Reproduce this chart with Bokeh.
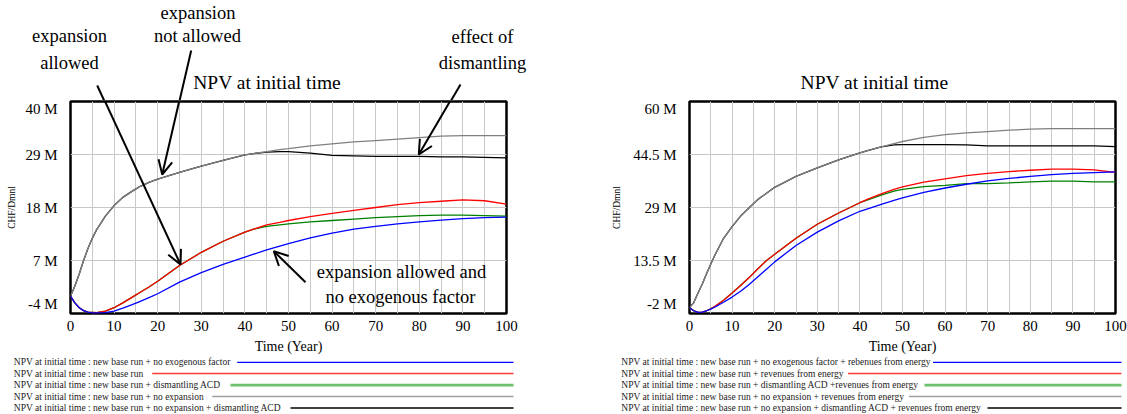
from bokeh.plotting import figure
from bokeh.models import Range1d, FixedTicker, Label, Arrow, OpenHead, Plot
from bokeh.layouts import row, column
from bokeh.core.properties import value
from bokeh.embed import file_html
from bokeh.resources import INLINE

FONT = "Liberation Serif"

# ---------------- data ----------------
time = [0, 1, 2, 3, 4, 5, 6, 8, 10, 12, 14, 16, 18, 20, 25, 30, 35, 40, 42, 45,
        48, 50, 55, 60, 65, 70, 75, 80, 85, 90, 95, 100]

# left chart (M CHF)
l_no_exogenous = [-0.4, -1.8, -2.8, -3.4, -3.7, -3.85, -3.9, -3.8, -3.5, -2.9, -2.2, -1.5, -0.7, 0.1,
                  2.5, 4.5, 6.2, 7.7, 8.3, 9.2, 10.0, 10.5, 11.7, 12.7, 13.5, 14.1, 14.6, 15.0,
                  15.4, 15.7, 15.9, 16.0]
l_base = [-0.4, -1.8, -2.8, -3.4, -3.7, -3.75, -3.8, -3.5, -2.8, -1.8, -0.7, 0.4, 1.5, 2.7,
          5.95, 8.7, 11.0, 12.9, 13.5, 14.4, 14.9, 15.3, 16.1, 16.8, 17.4, 18.0, 18.6, 19.0,
          19.3, 19.6, 19.4, 18.7]
l_dismantling = [-0.4, -1.8, -2.8, -3.4, -3.7, -3.75, -3.8, -3.5, -2.8, -1.8, -0.7, 0.4, 1.5, 2.7,
                 5.95, 8.7, 11.0, 12.9, 13.5, 14.1, 14.4, 14.6, 15.0, 15.3, 15.6, 15.9, 16.1, 16.3,
                 16.4, 16.4, 16.3, 16.2]
l_no_expansion = [-0.4, 1.7, 4.2, 7.0, 9.5, 11.6, 13.4, 16.2, 18.4, 20.1, 21.3, 22.4, 23.2, 23.9,
                  25.3, 26.6, 27.8, 28.9, 29.2, 29.6, 30.0, 30.2, 30.8, 31.2, 31.6, 31.9, 32.2, 32.5,
                  32.8, 32.9, 32.9, 32.9]
l_no_exp_dismantling = [-0.4, 1.7, 4.2, 7.0, 9.5, 11.6, 13.4, 16.2, 18.4, 20.1, 21.3, 22.4, 23.2, 23.9,
                        25.3, 26.6, 27.8, 28.9, 29.2, 29.5, 29.6, 29.6, 29.3, 28.8, 28.7, 28.6, 28.6, 28.6,
                        28.5, 28.5, 28.4, 28.3]

# right chart (M CHF), with revenues from energy
r_no_exogenous = [-0.3, -1.2, -1.7, -1.6, -1.2, -0.7, -0.1, 1.3, 2.8, 4.5, 6.5, 8.7, 10.9, 13.1,
                  17.9, 21.8, 25.1, 27.9, 28.7, 29.9, 31.1, 31.8, 33.4, 34.7, 35.8, 36.8, 37.5, 38.1,
                  38.6, 39.0, 39.2, 39.4]
r_base = [-0.3, -1.2, -1.7, -1.6, -1.2, -0.6, 0.1, 1.9, 4.0, 6.2, 8.5, 11.0, 13.4, 15.3,
          20.0, 24.1, 27.4, 30.4, 31.5, 33.0, 34.3, 35.0, 36.4, 37.4, 38.3, 39.0, 39.5, 39.9,
          40.2, 40.2, 40.0, 39.3]
r_dismantling = [-0.3, -1.2, -1.7, -1.6, -1.2, -0.6, 0.1, 1.9, 4.0, 6.2, 8.5, 11.0, 13.4, 15.3,
                 20.0, 24.1, 27.4, 30.4, 31.3, 32.6, 33.8, 34.3, 35.1, 35.5, 36.0, 36.0, 36.2, 36.5,
                 36.7, 36.7, 36.5, 36.5]
r_no_expansion = [-0.3, 1.2, 4.0, 6.6, 9.6, 12.5, 15.2, 20.0, 23.4, 26.5, 28.9, 31.3, 33.1, 34.9,
                  38.1, 40.6, 42.9, 45.0, 45.7, 46.7, 47.7, 48.3, 49.5, 50.3, 50.8, 51.2, 51.6, 51.9,
                  52.05, 52.05, 52.05, 52.05]
r_no_exp_dismantling = [-0.3, 1.2, 4.0, 6.6, 9.6, 12.5, 15.2, 20.0, 23.4, 26.5, 28.9, 31.3, 33.1, 34.9,
                        38.1, 40.6, 42.9, 45.0, 45.7, 46.7, 47.3, 47.4, 47.4, 47.4, 47.3, 47.0, 47.0, 47.0,
                        47.0, 47.0, 47.0, 46.8]

left_legend = [
    "NPV at initial time : new base run + no exogenous factor",
    "NPV at initial time : new base run",
    "NPV at initial time : new base run + dismantling ACD",
    "NPV at initial time : new base run + no expansion",
    "NPV at initial time : new base run + no expansion + dismantling ACD",
]
right_legend = [
    "NPV at initial time : new base run + no exogenous factor + rebenues from energy",
    "NPV at initial time : new base run + revenues from energy",
    "NPV at initial time : new base run + dismantling ACD +revenues from energy",
    "NPV at initial time : new base run + no expansion + revenues from energy",
    "NPV at initial time : new base run + no expansion + dismantling ACD + revenues from energy",
]

x_ticks = [0, 10, 20, 30, 40, 50, 60, 70, 80, 90, 100]
left_y_ticks = [-4, 7, 18, 29, 40]
right_y_ticks = [-2, 13.5, 29, 44.5, 60]

chart_title = "NPV at initial time"
x_title = "Time (Year)"
y_title = "CHF/Dmnl"

# ---------------- styles / layout ----------------
line_colors = ["#0000ff", "#ff0000", "#008000", "#808080", "#000000"]
legend_colors = ["#0000ff", "#ff3b3b", "#6cbf6c", "#a0a0a0", "#000000"]
legend_widths = [1.3, 1.5, 2.6, 1.3, 1.5]
draw_order = [4, 2, 3, 1, 0]   # black, green, gray, red, blue (blue on top)
legend_rows_y = [361.8, 373.0, 384.6, 396.0, 407.5]

TOP_H = 100          # annotation strip (window y 0..100)
MAIN_H = 256         # chart (window y 100..356)
LEG_H = 58           # legend strip (window y 356..414)
MAIN_BORDER_TOP = 1
FRAME_H = 213
FRAME_TOP_WIN = TOP_H + MAIN_BORDER_TOP
FRAME_BOTTOM_WIN = FRAME_TOP_WIN + FRAME_H

NO_ALIGN = {"frame_align": False} if "frame_align" in Plot.properties() else {}


def strip(win_x, win_y0, width, height):
    """A blank figure whose data coordinates are window pixels (y downwards)."""
    p = figure(width=width, height=height, output_backend="svg", toolbar_location=None,
               x_range=Range1d(win_x, win_x + width), y_range=Range1d(win_y0 + height, win_y0),
               min_border=0, min_border_left=0, min_border_right=0, min_border_top=0,
               min_border_bottom=0, x_axis_location=None, y_axis_location=None, **NO_ALIGN)
    p.grid.visible = False
    p.outline_line_color = None
    p.background_fill_color = "white"
    p.border_fill_color = "white"
    return p


def make_chart(win_x, width, border_left, frame_w, y_ticks, series, legend_labels,
               legend_line_starts, legend_text_x, legend_line_end, ylabel_standoff,
               title_pos, annotations, inner_annotations, arrows):
    y0, y1 = y_ticks[0], y_ticks[-1]

    # ---- top strip: title, annotation texts, upper part of arrows
    top = strip(win_x, 0, width, TOP_H)
    top.add_layout(Label(x=title_pos[0], y=title_pos[1], text=chart_title, text_font=FONT,
                         text_font_size="19.5px", text_align="center", text_baseline="middle",
                         text_color="black"))
    for (txt, px, py) in annotations:
        top.add_layout(Label(x=px, y=py, text=txt, text_font=FONT, text_font_size="18.5px",
                             text_align="center", text_baseline="middle", text_color="black"))
    for (ax0, ay0, ax1, ay1) in arrows:
        if ay0 < TOP_H:
            top.add_layout(Arrow(x_start=ax0, y_start=ay0, x_end=ax1, y_end=ay1,
                                 line_color="black", line_width=2,
                                 end=OpenHead(size=14, line_color="black", line_width=2)))

    # ---- main chart
    p = figure(width=width, height=MAIN_H, output_backend="svg", toolbar_location=None,
               x_range=Range1d(0, 100), y_range=Range1d(y0, y1),
               min_border_left=border_left, min_border_right=width - border_left - frame_w,
               min_border_top=MAIN_BORDER_TOP,
               min_border_bottom=MAIN_H - MAIN_BORDER_TOP - FRAME_H, **NO_ALIGN)
    p.background_fill_color = "white"
    p.border_fill_color = "white"
    p.outline_line_color = "black"
    p.outline_line_width = 2.5

    frame_left = win_x + border_left

    def sx(px):  # window px -> frame-relative screen x
        return px - frame_left

    def sy(py):  # window py -> frame-relative screen y (upwards)
        return FRAME_BOTTOM_WIN - py

    p.xaxis.ticker = FixedTicker(ticks=x_ticks)
    p.xgrid.ticker = FixedTicker(ticks=list(range(0, 101, 5)))
    p.yaxis.ticker = FixedTicker(ticks=y_ticks)
    overrides = {v: f"{v:g} M" for v in y_ticks}
    overrides[y0] = overrides[y0] + "\n"      # keep bottom label inside, as in Vensim
    p.yaxis.major_label_overrides = overrides
    for g in (p.xgrid, p.ygrid):
        g.grid_line_color = "#c8c8c8"
        g.grid_line_width = 1
    for ax in (p.xaxis, p.yaxis):
        ax.axis_line_color = None
        ax.major_tick_line_color = None
        ax.minor_tick_line_color = None
        ax.major_label_text_font = FONT
        ax.major_label_text_font_size = "15px"
        ax.major_label_text_color = "black"
        ax.axis_label_text_font = FONT
        ax.axis_label_text_font_style = "normal"
        ax.axis_label_text_color = "black"
    p.xaxis.major_label_standoff = 1
    p.yaxis.major_label_standoff = 7
    p.xaxis.axis_label = x_title
    p.xaxis.axis_label_text_font_size = "14px"
    p.xaxis.axis_label_standoff = 5
    p.yaxis.axis_label = y_title
    p.yaxis.axis_label_text_font_size = "9.5px"
    p.yaxis.axis_label_standoff = ylabel_standoff

    for i in draw_order:
        p.line(time, series[i], line_color=line_colors[i], line_width=1.3)

    for (ax0, ay0, ax1, ay1) in arrows:
        p.add_layout(Arrow(x_start=sx(ax0), y_start=sy(ay0), x_end=sx(ax1), y_end=sy(ay1),
                           start_units="screen", end_units="screen",
                           line_color="black", line_width=2,
                           end=OpenHead(size=14, line_color="black", line_width=2)))
    for (txt, px, py) in inner_annotations:
        p.add_layout(Label(x=sx(px), y=sy(py), x_units="screen", y_units="screen",
                           text=txt, text_font=FONT, text_font_size="18.5px",
                           text_align="center", text_baseline="middle", text_color="black"))

    # ---- legend strip (Vensim style: label followed by a line)
    leg = strip(win_x, TOP_H + MAIN_H, width, LEG_H)
    n = len(legend_labels)
    leg.text(x=[legend_text_x] * n, y=legend_rows_y[:n], text=legend_labels,
             text_font=value(FONT), text_font_size=value("9.5px"), text_align="left",
             text_baseline="middle", text_color="#222222")
    leg.segment(x0=legend_line_starts, y0=legend_rows_y[:n], x1=[legend_line_end] * n,
                y1=legend_rows_y[:n], line_color=legend_colors[:n], line_width=legend_widths[:n])

    return column(top, p, leg)


left_series = [l_no_exogenous, l_base, l_dismantling, l_no_expansion, l_no_exp_dismantling]
right_series = [r_no_exogenous, r_base, r_dismantling, r_no_expansion, r_no_exp_dismantling]

left_annotations = [
    ("expansion", 69, 35), ("allowed", 69, 62),
    ("expansion", 197.5, 12), ("not allowed", 197, 35),
    ("effect of", 482, 36), ("dismantling", 482, 62),
]
left_inner_annotations = [
    ("expansion allowed and", 401, 272), ("no exogenous factor", 400, 297),
]
left_arrows = [
    (96.7, 85, 180, 265),
    (190.7, 50, 161.7, 175),
    (460, 84, 418.3, 155),
    (305, 282.7, 273.3, 251.7),
]

left = make_chart(0, 560, 70, 436, left_y_ticks, left_series, left_legend,
                  [236.7, 151.7, 230, 211.7, 290], 13.3, 513, 5,
                  (266.7, 82), left_annotations, left_inner_annotations, left_arrows)
right = make_chart(560, 567, 129, 426, right_y_ticks, right_series, right_legend,
                   [932.5, 847.5, 924, 908.5, 987], 620.8, 1121, 8,
                   (874, 82), [], [], [])

layout = row(left, right)
open("out.html", "w").write(file_html(layout, INLINE))
